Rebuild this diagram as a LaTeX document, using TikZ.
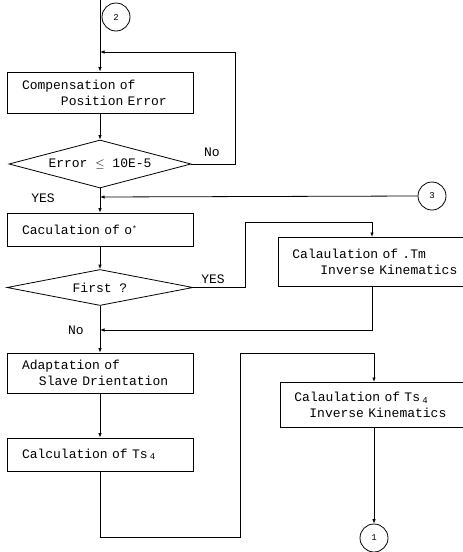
\documentclass[tikz,border=0pt]{standalone}
\usepackage{fontspec}
\newfontfamily\tw{Liberation Mono}
\usetikzlibrary{shapes.geometric,arrows.meta}
\begin{document}
\begin{tikzpicture}[x=1pt,y=-1pt,
  line width=0.8pt,
  >={Latex[length=4.5pt,width=3.5pt]},
  txt/.style={font=\tw\fontsize{13}{16}\selectfont},
  lbox/.style={draw, rectangle, txt, inner xsep=15pt, inner ysep=0pt, text width=156pt, align=left},
  rbox/.style={draw, rectangle, txt, inner xsep=14pt, inner ysep=0pt, text width=182pt, align=left, anchor=north west},
  dia/.style={draw, diamond, txt, inner sep=0pt, aspect=3.8},
  conn/.style={draw, circle, inner sep=0pt, minimum size=28pt, font=\tw\fontsize{9}{9}\selectfont},
  lbl/.style={txt, inner sep=0pt}
]
\useasboundingbox (0,0) rectangle (463,552);
\clip (0,0) rectangle (463,552);

% connectors (circles)
\node[conn] (c2) at (116,17) {2};
\node[conn] (c3) at (432,196) {3};
\node[conn] (c1) at (374,538) {1};

% left column
\node[lbox, minimum height=41pt] (b1) at (100,92.5) {Compensation of\\\hspace*{39pt}Position Error};
\node[dia, minimum width=182pt, minimum height=48pt] (d1) at (100,164) {Error $\leq$ 10E-5};
\node[lbox, minimum height=33pt] (b2) at (100,229.5) {Caculation of o\raisebox{3pt}{\footnotesize *}};
\node[dia, minimum width=186pt, minimum height=36pt] (d2) at (100,287.5) {First ?};
\node[lbox, minimum height=40pt] (b3) at (100,373) {Adaptation of\\\hspace*{17pt}Slave Drientation};
\node[lbox, minimum height=33pt] (b4) at (100,454.5) {Calculation of Ts\,\raisebox{-1.5pt}{\small 4}};

% right column
\node[rbox, minimum height=49pt] (r1) at (278,237) {Calaulation of .Tm\\\hspace*{28pt}Inverse Kinematics};
\node[rbox, minimum height=45pt] (r2) at (280,382) {Calaulation of Ts\,\raisebox{-1.5pt}{\small 4}\\\hspace*{15pt}Inverse Kinematics};

% labels
\node[lbl] (no1) at (212,152) {No};
\node[lbl] (yes1) at (43,198) {YES};
\node[lbl] (yes2) at (213,279) {YES};
\node[lbl] (no2) at (76,330) {No};

% helper coordinates
\coordinate (top) at (100,0);
\coordinate (j1) at (100,52);
\coordinate (j2) at (100,197);
\coordinate (j3) at (100,330);
\coordinate (r1in) at (372,222);
\coordinate (r2in) at (374,353);

% connectors
\draw[->] (top) -- (b1.north);
\draw[->] (d1.east) -- (235,164) |- (j1);
\draw[->] (b1.south) -- (d1.north);
\draw[->] (d1.south) -- (b2.north);
\draw[->] (c3.west) -- (j2);
\draw[->] (b2.south) -- (d2.north);
\draw[->] (d2.east) -- (245,287.5) |- (r1in) -- (r1in |- r1.north);
\draw[->] (d2.south) -- (b3.north);
\draw[->] (r1in |- r1.south) |- (j3);
\draw[->] (b3.south) -- (b4.north);
\draw[->] (b4.south) -- (100,537) -- (240,537) |- (r2in) -- (r2in |- r2.north);
\draw[->] (r2in |- r2.south) -- (c1.north);
\end{tikzpicture}
\end{document}
